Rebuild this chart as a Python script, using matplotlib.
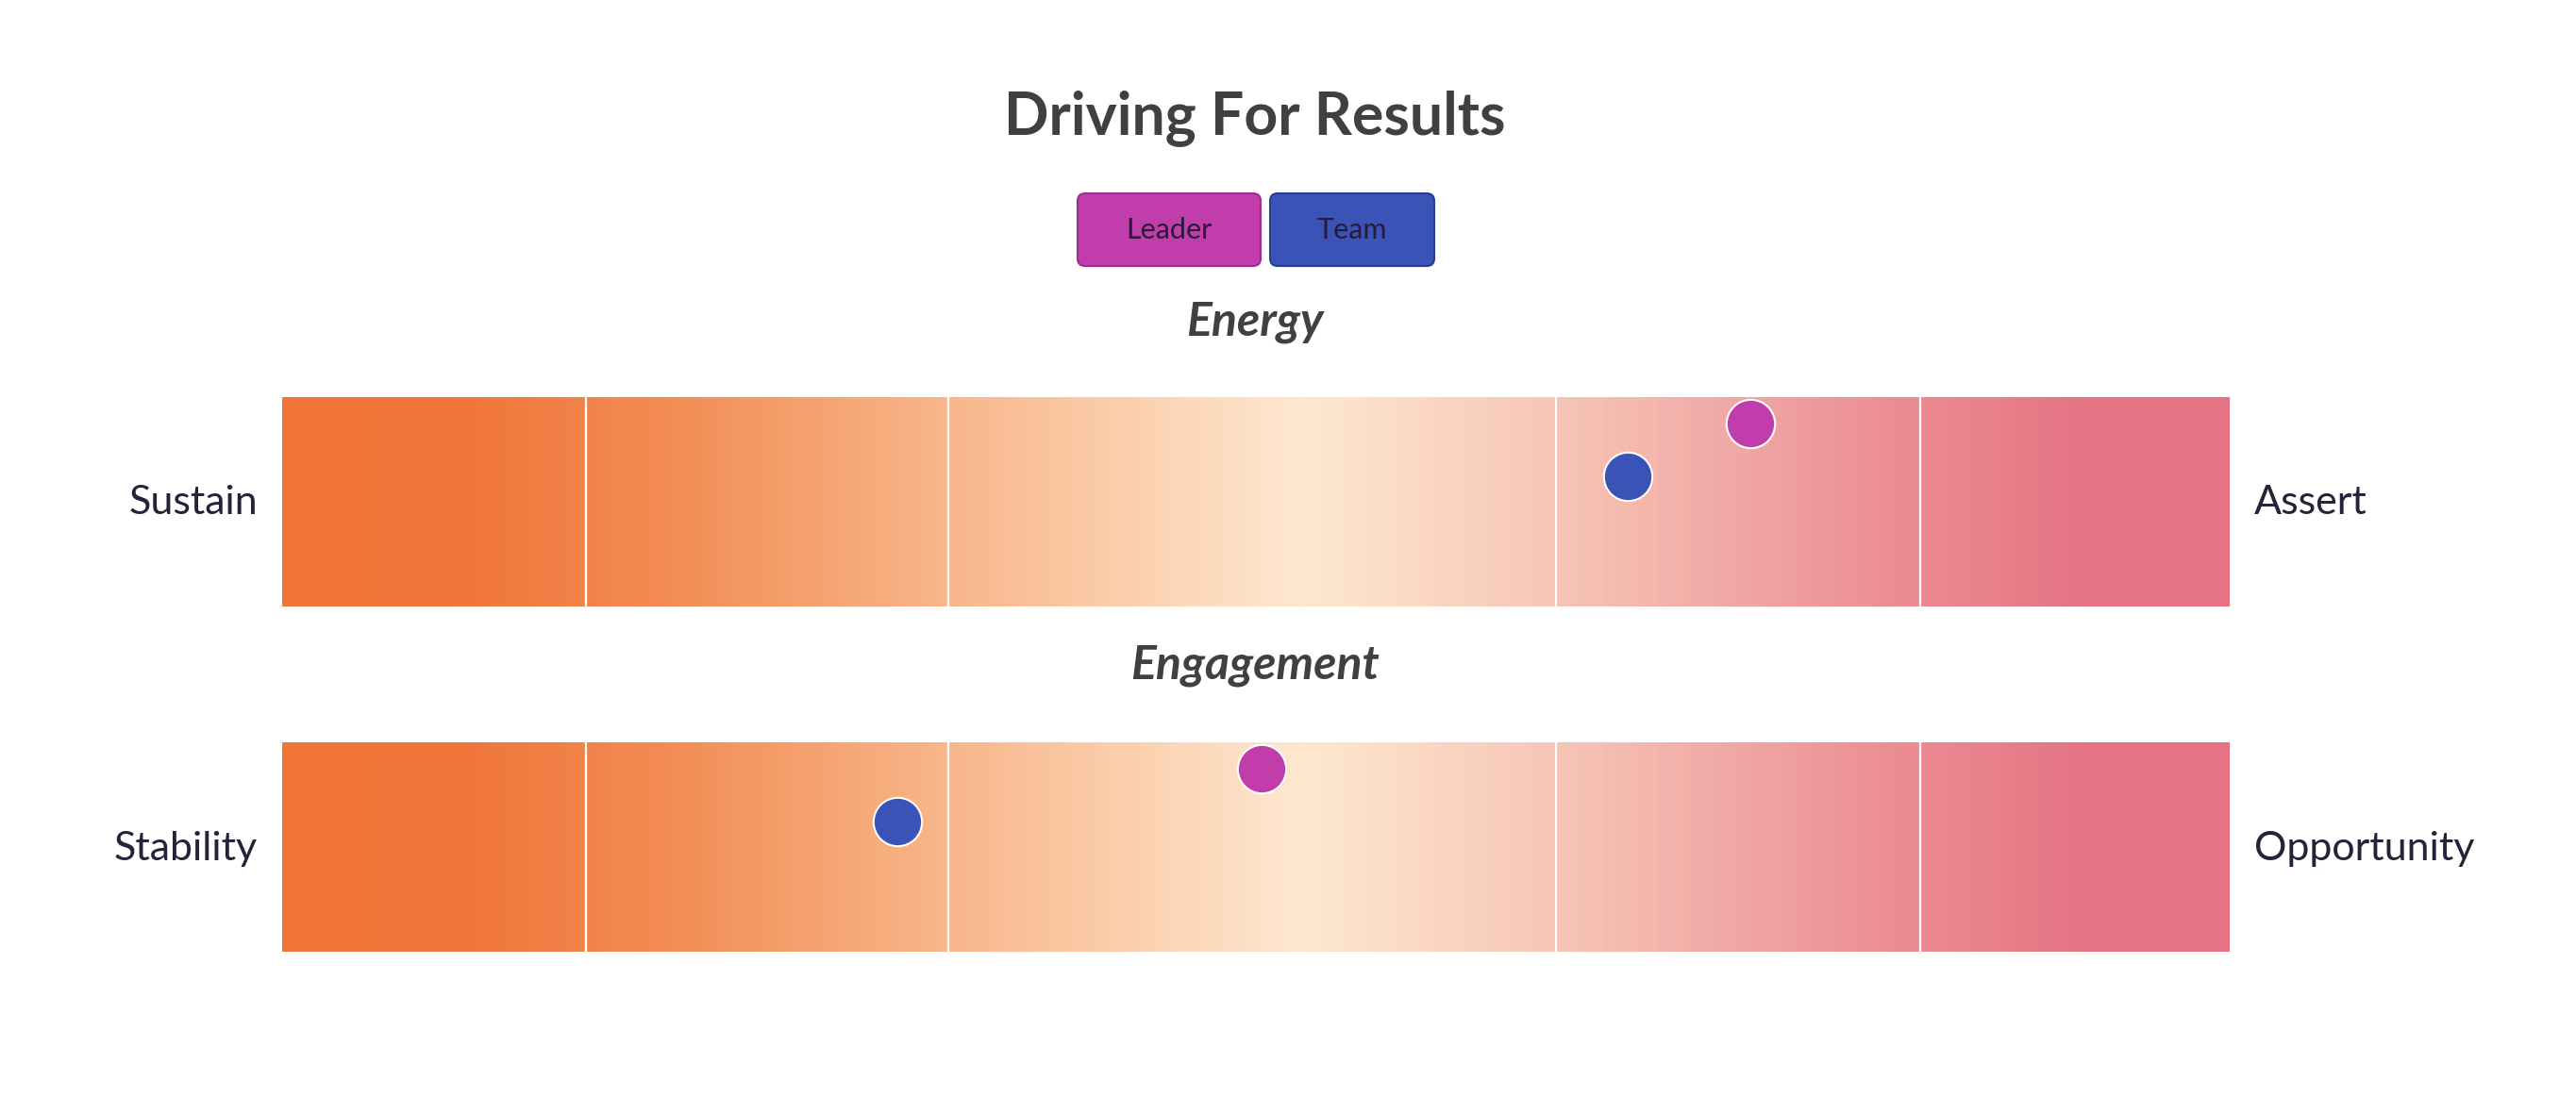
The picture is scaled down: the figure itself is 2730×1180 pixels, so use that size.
#!/usr/bin/env python3
"""
Driving For Results - leader vs team position on two trait scales.
"""

import matplotlib.pyplot as plt
import numpy as np
from matplotlib.colors import LinearSegmentedColormap
from matplotlib.patches import FancyBboxPatch

# Data
traits = ['Energy', 'Engagement']
left_labels = ['Sustain', 'Stability']
right_labels = ['Assert', 'Opportunity']
series = ['Leader', 'Team']
leader_scores = [75.4, 50.3]
team_scores = [69.1, 31.6]
band_edges = [15.6, 34.2, 65.4, 84.1]

# Style
plt.rcParams['font.family'] = ['Lato', 'DejaVu Sans']
series_colors = {'Leader': '#C23DAC', 'Team': '#3A53B6'}
series_edges = {'Leader': '#9E2E8C', 'Team': '#2A3E91'}
series_ypos = {'Leader': 0.875, 'Team': 0.62}
label_color = '#25223A'
title_color = '#404040'

grad = LinearSegmentedColormap.from_list('scale', [
    (0.00, '#F07537'),
    (0.09, '#F07639'),
    (0.20, '#F38D55'),
    (0.34, '#F8B68A'),
    (0.524, '#FEE8D0'),
    (0.66, '#F6C4B6'),
    (0.84, '#EB8A92'),
    (0.93, '#E57383'),
    (1.00, '#E57383'),
])

W, H = 2730, 1180
fig = plt.figure(figsize=(W / 100, H / 100), dpi=100)

# Overlay axes in pixel units for title / legend / captions
ov = fig.add_axes([0, 0, 1, 1])
ov.set_xlim(0, W)
ov.set_ylim(H, 0)
ov.axis('off')

ov.text(1330, 125, 'Driving For Results', ha='center', va='center',
        fontsize=45, fontweight='bold', color=title_color)

# Legend buttons
btn_x = [1142, 1346]
btn_w = [194, 174]
for name, bx, bw in zip(series, btn_x, btn_w):
    box = FancyBboxPatch((bx, 205), bw, 77,
                         boxstyle='round,pad=0,rounding_size=8',
                         facecolor=series_colors[name],
                         edgecolor=series_edges[name], linewidth=1.5)
    ov.add_patch(box)
    ov.text(bx + bw / 2, 244, name, ha='center', va='center',
            fontsize=22, color='#2A1A3A')

# Bars
bar_left, bar_w, bar_h = 299 / W, 2064 / W, 222 / H
bar_bottoms = [(H - 643) / H, (H - 1009) / H]
trait_y = [341, 706]
label_y = [533, 900]

gradient = np.linspace(0, 1, 512).reshape(1, -1)

for i, trait in enumerate(traits):
    ax = fig.add_axes([bar_left, bar_bottoms[i], bar_w, bar_h])
    ax.imshow(gradient, cmap=grad, extent=[0, 100, 0, 1], aspect='auto',
              interpolation='bilinear')
    for e in band_edges:
        ax.axvline(e, color='white', linewidth=1.6)
    for name, scores in zip(series, [leader_scores, team_scores]):
        ax.plot(scores[i], series_ypos[name], 'o', markersize=37,
                color=series_colors[name], markeredgecolor='white',
                markeredgewidth=1.5, clip_on=False, zorder=5)
    ax.set_xlim(0, 100)
    ax.set_ylim(0, 1)
    ax.axis('off')

    ov.text(1330, trait_y[i], trait, ha='center', va='center',
            fontsize=36, fontweight='bold', fontstyle='italic', color=title_color)
    ov.text(273, label_y[i], left_labels[i], ha='right', va='center',
            fontsize=31, color=label_color)
    ov.text(2389, label_y[i], right_labels[i], ha='left', va='center',
            fontsize=31, color=label_color)

plt.savefig('out.png', dpi=100)
plt.close()
